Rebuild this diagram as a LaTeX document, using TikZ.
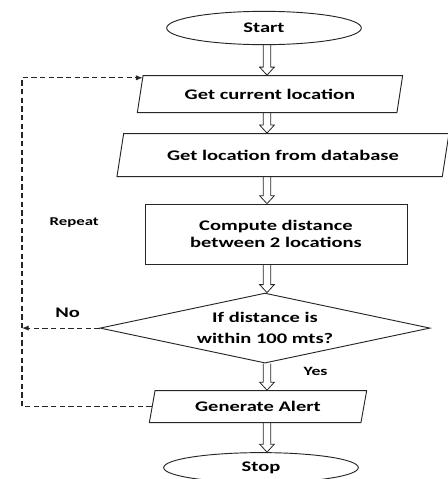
\documentclass[tikz,border=0pt]{standalone}
\usepackage{fontspec}
\setmainfont{Carlito}[FakeStretch=1.4]
\usetikzlibrary{positioning, arrows.meta, shapes.geometric}
\usepackage{xcolor}

% hollow block arrow down the spine, from node #1 to node #2
\newcommand{\blockarrow}[2]{%
    \draw[flow] ([xshift=-2.75pt]spine |- #1.south) -- ([xshift=-2.75pt,yshift=6pt]spine |- #2.north)
        -- ([xshift=-5.5pt,yshift=6pt]spine |- #2.north) -- (spine |- #2.north)
        -- ([xshift=5.5pt,yshift=6pt]spine |- #2.north) -- ([xshift=2.75pt,yshift=6pt]spine |- #2.north)
        -- ([xshift=2.75pt]spine |- #1.south);}

\begin{document}
\begin{tikzpicture}[
                node distance=20pt,
                terminal/.style={ellipse, draw=black!85, line width=0.7pt, minimum width=146pt, minimum height=25pt, inner sep=1pt, font=\fontsize{11}{13}\selectfont\bfseries},
                io/.style={trapezium, trapezium left angle=70, trapezium right angle=110, trapezium stretches body, draw=black!85, line width=0.7pt, inner sep=2pt, align=center, font=\fontsize{11}{13}\selectfont\bfseries},
                process/.style={rectangle, draw=black!85, line width=0.7pt, minimum width=196.5pt, minimum height=45pt, align=center, font=\fontsize{11}{12.5}\selectfont\bfseries},
                decision/.style={diamond, aspect=4.7, draw=black!85, line width=0.7pt, minimum width=247.5pt, minimum height=52.5pt, inner sep=0pt, align=center, font=\fontsize{11}{16}\selectfont\bfseries},
                flow/.style={draw=black!85, line width=0.6pt, line join=miter},
                loopline/.style={dashed, dash pattern=on 4pt off 2.5pt, line width=0.8pt, draw=black!85, -{Latex[length=5pt, width=4pt]}},
                tag/.style={font=\fontsize{9.5}{11}\selectfont\bfseries}
            ]
            \useasboundingbox (0,0) rectangle (336pt,-359.25pt);

            % Main column
            \node[terminal] (start) at (198pt,-21pt) {Start};
            \node[io, minimum width=199pt, minimum height=27.75pt, below=22.5pt of start, xshift=4.5pt] (current) {Get current location};
            \node[io, trapezium left angle=67, trapezium right angle=113, minimum width=249pt, minimum height=32.25pt, below=15pt of current, xshift=9.75pt] (database) {Get location from database};
            \node[process, below=of database, xshift=-5.25pt] (compute) {Compute distance\\between 2 locations};
            \node[decision, below=21pt of compute, xshift=-8.25pt] (check) {If distance is\\within 100 mts?};
            \node[io, minimum width=163pt, minimum height=24pt, below=of check, xshift=-5.25pt] (alert) {Generate Alert};
            \node[terminal, minimum height=22.5pt, below=21.75pt of alert, xshift=2.25pt] (stop) {Stop};

            % Helper points
            \coordinate (spine) at (200.25pt,0);
            \coordinate (rail) at (16.5pt,0);
            \coordinate (entry) at ([yshift=-2pt]current.top left corner);

            % Arrows
            \blockarrow{start}{current}
            \blockarrow{current}{database}
            \blockarrow{database}{compute}
            \blockarrow{compute}{check}
            \blockarrow{check}{alert}
            \blockarrow{alert}{stop}
            \node[tag, right=24pt] at ([yshift=-6pt]spine |- check.south) {Yes};

            % Repeat loop
            \draw[loopline] (check.west) -- node[pos=0.41, above=4pt, font=\fontsize{11}{13}\selectfont\bfseries] {No} (check.west -| rail);
            \draw[loopline] (alert.west) -| node[tag, pos=0.78, right=17pt, font=\fontsize{9}{11}\selectfont\bfseries] {Repeat} (rail |- entry) -- (entry);
        \end{tikzpicture}
\end{document}
